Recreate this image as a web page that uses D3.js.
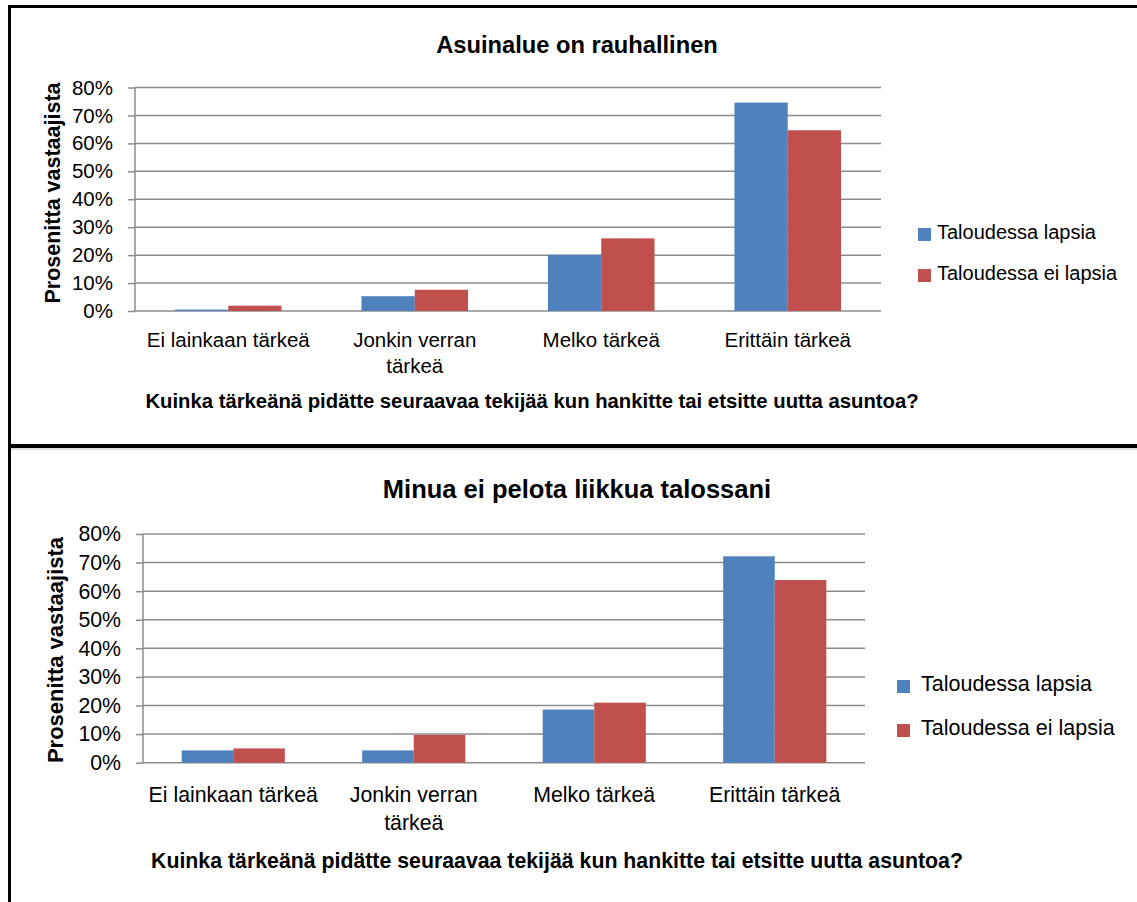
<!DOCTYPE html>
<html>
<head>
<meta charset="utf-8">
<script src="https://cdn.jsdelivr.net/npm/d3@7"></script>
<style>
  body { margin: 0; background: #fff; }
  text { font-family: "Liberation Sans", Arial, sans-serif; fill: #000; }
</style>
</head>
<body>
<div id="chart"></div>
<script>
// data
var categories = ["Ei lainkaan tärkeä", "Jonkin verran tärkeä", "Melko tärkeä", "Erittäin tärkeä"];
var seriesNames = ["Taloudessa lapsia", "Taloudessa ei lapsia"];
var yTicks = [0, 10, 20, 30, 40, 50, 60, 70, 80];

var titles = ["Asuinalue on rauhallinen", "Minua ei pelota liikkua talossani"];
var xTitle = "Kuinka tärkeänä pidätte seuraavaa tekijää kun hankitte tai etsitte uutta asuntoa?";
var yTitle = "Prosenitta vastaajista";

// chart 1: Asuinalue on rauhallinen
var rauhaLapsia   = [0.5, 5.3, 20.1, 74.6];
var rauhaEiLapsia = [1.9, 7.6, 26.0, 64.7];
// chart 2: Minua ei pelota liikkua talossani
var pelkoLapsia   = [4.3, 4.3, 18.6, 72.2];
var pelkoEiLapsia = [5.0, 9.7, 21.0, 63.9];

var colors = ["#4F81BD", "#C0504D"];

var width = 1137, height = 902;
var svg = d3.select("#chart").append("svg")
    .attr("width", width)
    .attr("height", height);

// frames (two stacked chart pictures)
svg.append("line").attr("x1", 8).attr("x2", width).attr("y1", 6.5).attr("y2", 6.5)
    .attr("stroke", "#000").attr("stroke-width", 3);
svg.append("line").attr("x1", 9.5).attr("x2", 9.5).attr("y1", 5).attr("y2", height)
    .attr("stroke", "#000").attr("stroke-width", 3);
svg.append("line").attr("x1", 8).attr("x2", width).attr("y1", 446).attr("y2", 446)
    .attr("stroke", "#000").attr("stroke-width", 4);
svg.append("line").attr("x1", 11).attr("x2", width).attr("y1", 449).attr("y2", 449)
    .attr("stroke", "#bbb").attr("stroke-width", 1);

function wrap(sel, w) {
  sel.each(function () {
    var t = d3.select(this), words = t.text().split(" "), line = [], n = 0;
    var x = t.attr("x"), y = t.attr("y"), lh = t.attr("data-lh");
    var span = t.text(null).append("tspan").attr("x", x).attr("y", y);
    words.forEach(function (word) {
      line.push(word);
      span.text(line.join(" "));
      if (span.node().getComputedTextLength() > w && line.length > 1) {
        line.pop();
        span.text(line.join(" "));
        line = [word];
        n++;
        span = t.append("tspan").attr("x", x).attr("y", +y + n * lh).text(word);
      }
    });
  });
}

function drawChart(c) {
  var g = svg.append("g");

  var x = d3.scaleBand().domain(categories).range([c.x0, c.x1]);
  var xs = d3.scaleBand().domain(seriesNames).range([0, x.bandwidth()])
      .paddingInner(0).paddingOuter(0.75);
  var y = d3.scaleLinear().domain([0, 80]).range([c.y0, c.y1]);

  // gridlines
  g.selectAll(".grid").data(yTicks).enter().append("line")
      .attr("x1", c.x0).attr("x2", c.x1)
      .attr("y1", function (d) { return y(d); })
      .attr("y2", function (d) { return y(d); })
      .attr("stroke", "#8c8c8c").attr("stroke-width", 1.5);

  // bars
  var values = [c.a, c.b];
  seriesNames.forEach(function (s, si) {
    g.selectAll(".bar" + si).data(values[si]).enter().append("rect")
        .attr("x", function (d, i) { return x(categories[i]) + xs(s); })
        .attr("y", function (d) { return y(d); })
        .attr("width", xs.bandwidth())
        .attr("height", function (d) { return c.y0 - y(d); })
        .attr("fill", colors[si]);
  });

  // y axis
  var yAxis = d3.axisLeft(y).tickValues(yTicks).tickSize(7).tickPadding(15)
      .tickFormat(function (d) { return d + "%"; });
  var ya = g.append("g").attr("transform", "translate(" + c.x0 + ",0)").call(yAxis);
  ya.selectAll("line, path").attr("stroke", "#8c8c8c").attr("stroke-width", 1.5);
  ya.select(".domain").attr("d", "M0," + c.y0 + "V" + c.y1);
  ya.selectAll("text").style("font-family", "Liberation Sans, Arial, sans-serif")
      .attr("font-size", c.fs).attr("fill", "#000");

  // category labels
  g.selectAll(".cat").data(categories).enter().append("text")
      .attr("x", function (d) { return x(d) + x.bandwidth() / 2; })
      .attr("y", c.catY)
      .attr("data-lh", c.catLH)
      .attr("text-anchor", "middle")
      .attr("font-size", c.fs)
      .text(function (d) { return d; })
      .call(wrap, x.bandwidth() - 8);

  // titles
  g.append("text").attr("x", c.titleX).attr("y", c.titleY)
      .attr("text-anchor", "middle").attr("font-weight", "bold")
      .attr("font-size", c.titleFs).text(c.title);
  g.append("text").attr("x", c.xtX).attr("y", c.xtY)
      .attr("text-anchor", "middle").attr("font-weight", "bold")
      .attr("font-size", c.xtFs).text(xTitle);
  g.append("text")
      .attr("transform", "translate(" + c.ytX + "," + c.ytY + ") rotate(-90)")
      .attr("text-anchor", "middle").attr("font-weight", "bold")
      .attr("font-size", c.ytFs).text(yTitle);

  // legend
  var lg = g.selectAll(".leg").data(seriesNames).enter().append("g")
      .attr("transform", function (d, i) { return "translate(" + c.legX + "," + (c.legY + i * c.legStep) + ")"; });
  lg.append("rect").attr("x", 0).attr("y", -11).attr("width", 13).attr("height", 13)
      .attr("fill", function (d, i) { return colors[i]; });
  lg.append("text").attr("x", c.legTx).attr("y", 0)
      .attr("font-size", c.legFs).text(function (d) { return d; });
}

drawChart({
  a: rauhaLapsia, b: rauhaEiLapsia, title: titles[0],
  x0: 135, x1: 881, y0: 311, y1: 87.5, fs: 20.5,
  catY: 347, catLH: 26,
  titleX: 577, titleY: 53, titleFs: 23.7,
  xtX: 532, xtY: 408, xtFs: 20.3,
  ytX: 60, ytY: 193, ytFs: 21.5,
  legX: 918, legY: 239, legStep: 41, legTx: 19, legFs: 20
});

drawChart({
  a: pelkoLapsia, b: pelkoEiLapsia, title: titles[1],
  x0: 143, x1: 865, y0: 762.7, y1: 534, fs: 21.3,
  catY: 802, catLH: 28,
  titleX: 577, titleY: 498, titleFs: 25.5,
  xtX: 557, xtY: 868, xtFs: 21.3,
  ytX: 63, ytY: 650, ytFs: 22,
  legX: 897, legY: 691, legStep: 44, legTx: 24, legFs: 21.5
});
</script>
</body>
</html>
